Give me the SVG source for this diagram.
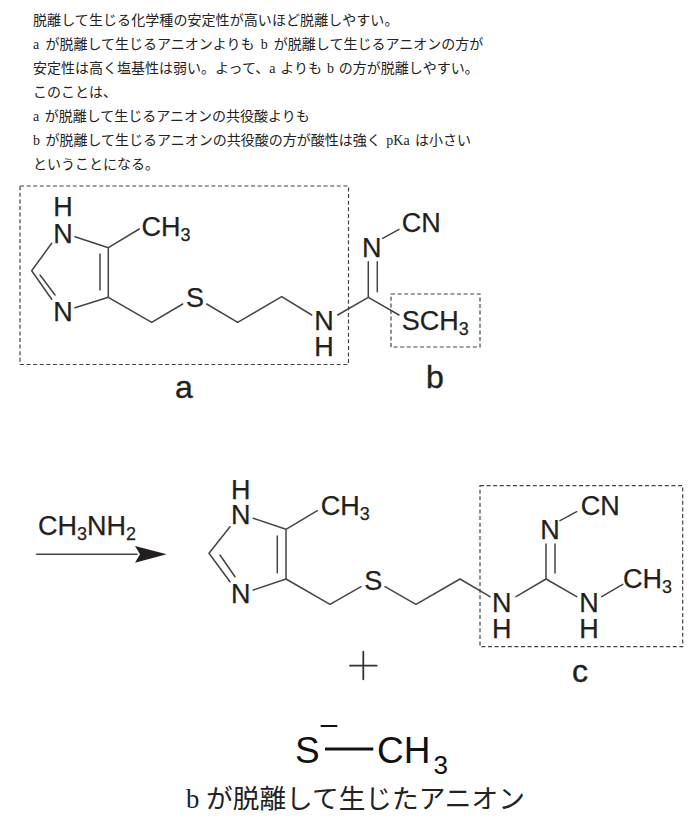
<svg xmlns="http://www.w3.org/2000/svg" width="698" height="825" viewBox="0 0 698 825">
<style>
.bg{fill:#fff}
.t{font-family:"Liberation Serif","Noto Sans CJK JP",serif;font-size:14px;fill:#222}
.cap{font-family:"Liberation Serif","Noto Sans CJK JP",serif;font-size:26.7px;fill:#222}
.a{font-family:"Liberation Sans",Arial,sans-serif;font-size:27px;fill:#231f20;stroke:#231f20;stroke-width:.25}
.s{font-size:18px}
.m{text-anchor:middle}
.l{font-family:"Liberation Sans",Arial,sans-serif;font-size:32px;fill:#231f20;text-anchor:middle;stroke:#231f20;stroke-width:.4}
.an{font-family:"Liberation Sans",Arial,sans-serif;font-size:37px;fill:#111}
.b{fill:none;stroke:#444;stroke-width:1.5;stroke-linecap:round;stroke-linejoin:round}
.d{fill:none;stroke:#444;stroke-width:1.2;stroke-dasharray:4 2.6}
</style>
<rect class="bg" width="698" height="825"/>
<g id="explanation">
<text class="t" x="33" y="25" style="letter-spacing:.08px">脱離して生じる化学種の安定性が高いほど脱離しやすい。</text>
<text class="t" x="33" y="49" style="word-spacing:2.7px">a が脱離して生じるアニオンよりも b が脱離して生じるアニオンの方が</text>
<text class="t" x="33" y="73" style="word-spacing:1.4px">安定性は高く塩基性は弱い。よって、a よりも b の方が脱離しやすい。</text>
<text class="t" x="33" y="97">このことは、</text>
<text class="t" x="33" y="121" style="word-spacing:2px">a が脱離して生じるアニオンの共役酸よりも</text>
<text class="t" x="33" y="145" style="word-spacing:2px">b が脱離して生じるアニオンの共役酸の方が酸性は強く pKa は小さい</text>
<text class="t" x="33" y="169">ということになる。</text>
</g>
<g id="connectors">
<path class="b" d="M75 236.7L108.3 247.7L139.3 229M108.3 247.7V297.3L75 307.7M100 254V290M51.7 243.3L31.7 270.7L51.7 299.3M40 275L55 295"/>
<path class="b" d="M108.3 297.3L151.7 322.3L182.7 304M206.7 304L237.7 322.3L281.7 296.7L311.7 315M337.7 315L368.3 297.3L399 315M368.3 297.3V261.7M377.3 291.7V261.7M382.7 238.3L399 229.3"/>
<path class="b" d="M253.3 518.3L286 529.3L317.3 510.7M286 529.3V579L253.3 590M277.3 536V572.7M230 526.7L209 553.3L230 581.7M220 555L235 576.7"/>
<path class="b" d="M286 579L330 604.3L361 586.7M385 586.7L416 604.3L460 579L490 596.7M516 596.7L546 579L576.7 596.7M546 579V544M555 573V544M560 520.7L576.7 511.7M601.7 596.7L622.7 584.3"/>
<path id="reaction-arrow" class="b" d="M36.7 554.3H137"/>
<polygon points="166.7,554.3 135,546 140,554.3 135,562.7" fill="#231f20"/>
<path class="b" style="stroke:#333;stroke-width:1.8" d="M350 665.7H376.7M363.3 651.7V679.3"/>
<path d="M325 749H373.3" fill="none" stroke="#111" stroke-width="3"/>
<path d="M320.7 726H337.3" fill="none" stroke="#111" stroke-width="2"/>
</g>
<g id="box-a"><rect class="d" x="20" y="186" width="328.5" height="178.5"/><text class="l" x="184" y="398">a</text></g>
<g id="box-b"><rect class="d" x="391" y="294" width="89" height="53"/><text class="l" x="435" y="388">b</text></g>
<g id="box-c"><rect class="d" x="480" y="485.7" width="202.7" height="161"/><text class="l" x="580" y="682">c</text></g>
<g id="substrate-atoms">
<text class="a m" x="63" y="216">H</text>
<text class="a m" x="63" y="242.7">N</text>
<text class="a m" x="63" y="321">N</text>
<text class="a" x="141.5" y="236">CH<tspan class="s" dy="5">3</tspan></text>
<text class="a m" x="195" y="306.7">S</text>
<text class="a m" x="324" y="330">N</text>
<text class="a m" x="324" y="355.7">H</text>
<text class="a m" x="371.7" y="256.7">N</text>
<text class="a" x="401.7" y="231.7">CN</text>
<text class="a" x="401.7" y="330">SCH<tspan class="s" dy="5">3</tspan></text>
</g>
<g id="reagent">
<text class="a" x="38" y="535">CH<tspan class="s" dy="5">3</tspan><tspan dy="-5">NH</tspan><tspan class="s" dy="5">2</tspan></text>
</g>
<g id="product-atoms">
<text class="a m" x="240.7" y="499.3">H</text>
<text class="a m" x="240.7" y="524.3">N</text>
<text class="a m" x="240.7" y="603.3">N</text>
<text class="a" x="320.7" y="515">CH<tspan class="s" dy="5">3</tspan></text>
<text class="a m" x="373.3" y="590">S</text>
<text class="a m" x="501.7" y="611.7">N</text>
<text class="a m" x="501.7" y="638.3">H</text>
<text class="a m" x="589" y="611.7">N</text>
<text class="a m" x="589" y="638.3">H</text>
<text class="a m" x="550" y="539.3">N</text>
<text class="a" x="580.7" y="515">CN</text>
<text class="a" x="623" y="588">CH<tspan class="s" dy="5">3</tspan></text>
</g>
<g id="anion">
<text class="an" x="295" y="763">S</text>
<text class="an" x="377" y="763">CH<tspan dx="3" dy="11" style="font-size:26px">3</tspan></text>
<text class="cap" x="186" y="808">b が脱離して生じたアニオン</text>
</g>
</svg>
